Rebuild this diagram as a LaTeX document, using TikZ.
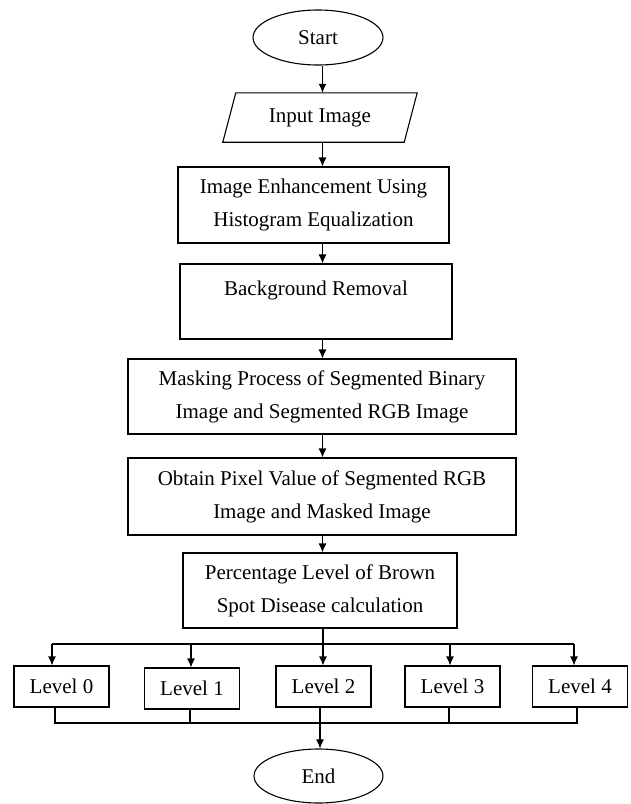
\documentclass[tikz,border=0pt]{standalone}
\usepackage{fontspec}
\setmainfont{Liberation Serif}
\usetikzlibrary{arrows.meta,shapes.geometric,calc}
\begin{document}
\begin{tikzpicture}[x=1pt,y=-1pt,
  every node/.style={font=\fontsize{21}{33}\selectfont},
  box/.style={draw,line width=1.1pt,inner sep=0pt,align=center},
  lvl/.style={box,minimum width=95pt,minimum height=41pt},
  term/.style={draw,ellipse,line width=1.1pt,inner sep=0pt},
  arr/.style={-{Latex[length=9pt,width=8pt]},line width=1.1pt},
  ln/.style={line width=1.1pt}]
\useasboundingbox (0,0) rectangle (631,804);
\node[term,minimum width=130pt,minimum height=55pt] (start) at (318,37.5) {Start};
\node[inner sep=0pt,minimum width=181pt,minimum height=49pt] (inp) at (320,117.5) {Input Image};
\draw[ln] ($(inp.north west)+(6.5,0)$) -- ($(inp.north east)+(6.5,0)$) -- ($(inp.south east)+(-6.5,0)$) -- ($(inp.south west)+(-6.5,0)$) -- cycle;
\node[box,minimum width=271pt,minimum height=76pt] (enh) at (313.5,205) {Image Enhancement Using\\Histogram Equalization};
\node[box,minimum width=272pt,minimum height=75pt] (bg) at (316,301.5) {Background Removal\\[-10pt]\phantom{g}};
\node[box,minimum width=388pt,minimum height=75pt] (mask) at (322,396.5) {Masking Process of Segmented Binary\\Image and Segmented RGB Image};
\node[box,minimum width=388pt,minimum height=77pt] (obt) at (322,496.5) {Obtain Pixel Value of Segmented RGB\\Image and Masked Image};
\node[box,minimum width=274pt,minimum height=75pt] (pct) at (320,590.5) {Percentage Level of Brown\\Spot Disease calculation};
\node[lvl] (l0) at (61.5,686.5) {Level 0};
\node[lvl] (l1) at (192,688.5) {Level 1};
\node[lvl] (l2) at (323.5,686.5) {Level 2};
\node[lvl] (l3) at (452.5,686.5) {Level 3};
\node[lvl] (l4) at (580,686.5) {Level 4};
\node[term,minimum width=129pt,minimum height=54pt] (end) at (318.5,776) {End};
\coordinate (sp) at (322.5,0);
\draw[arr] (start.south -| sp) -- (inp.north -| sp);
\draw[arr] (inp.south -| sp) -- (enh.north -| sp);
\draw[arr] (enh.south -| sp) -- (bg.north -| sp);
\draw[arr] (bg.south -| sp) -- (mask.north -| sp);
\draw[arr] (mask.south -| sp) -- (obt.north -| sp);
\draw[arr] (obt.south -| sp) -- (pct.north -| sp);
\coordinate (bus) at (323,644);
\coordinate (b0) at (52,644);
\coordinate (b1) at (191,644);
\coordinate (b2) at (323,644);
\coordinate (b3) at (450,644);
\coordinate (b4) at (574,644);
\draw[ln] (pct.south -| bus) -- (bus);
\draw[ln] (b0) -- (b4);
\draw[arr] (b0) -- (b0 |- l0.north);
\draw[arr] (b1) -- (b1 |- l1.north);
\draw[arr] (b2) -- (b2 |- l2.north);
\draw[arr] (b3) -- (b3 |- l3.north);
\draw[arr] (b4) -- (b4 |- l4.north);
\coordinate (c0) at (55,723);
\coordinate (c1) at (190,723);
\coordinate (c2) at (320,723);
\coordinate (c3) at (449,723);
\coordinate (c4) at (577,723);
\draw[ln] (c0 |- l0.south) -- (c0) -- (c4) -- (c4 |- l4.south);
\draw[ln] (c1 |- l1.south) -- (c1);
\draw[ln] (c2 |- l2.south) -- (c2);
\draw[ln] (c3 |- l3.south) -- (c3);
\draw[arr] (c2) -- (end.north -| c2);
\end{tikzpicture}
\end{document}
